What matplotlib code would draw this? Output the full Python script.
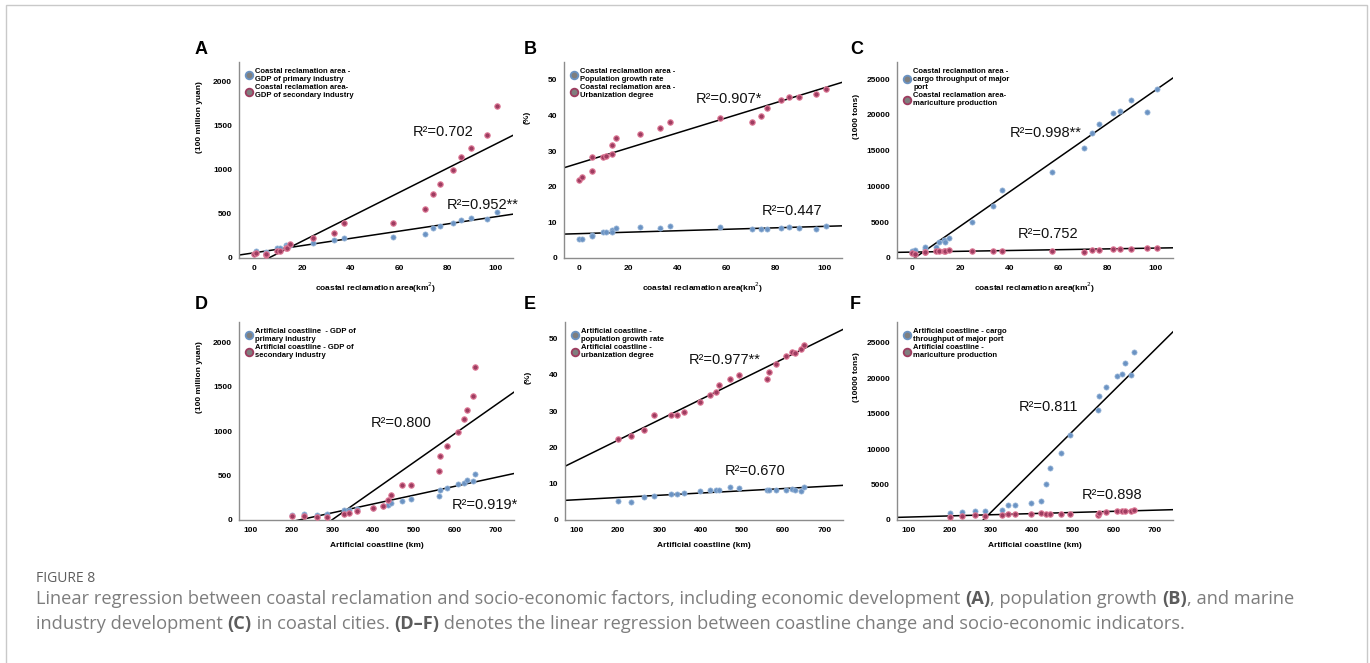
import numpy as np
import matplotlib
matplotlib.use("Agg")
import matplotlib.pyplot as plt
from matplotlib.lines import Line2D
from matplotlib.patches import Rectangle

# ---------------- data ----------------
# coastal reclamation area (km2), shared by panels A-C
x_recl = [0, 1.2, 5.3, 5.3, 9.8, 11.1, 13.4, 13.6, 15.2, 24.7, 33.2, 37.1,
          57.6, 70.6, 74.0, 76.7, 82.4, 85.5, 89.7, 96.3, 100.5]
# artificial coastline (km), shared by panels D-F
x_coast = [200, 230.7, 261.5, 285.8, 327.5, 341.6, 359.5, 398.5, 423, 436, 444,
           470.5, 493, 561, 564.5, 582, 608, 621.5, 629, 643.5, 650.5]

a_primary = [49, 75, 64, 60, 113, 113, 143, 132, 150, 169, 199, 222, 237, 274,
             335, 361, 402, 425, 455, 447, 523]
a_secondary = [45, 53, 38, 40, 75, 83, 109, 117, 158, 226, 286, 398, 391, 553,
               722, 835, 996, 1143, 1241, 1391, 1722]
b_pop = [5.4, 5.2, 6.5, 6.3, 7.3, 7.4, 7.8, 7.4, 8.4, 8.6, 8.4, 8.9, 8.8, 8.2,
         8.2, 8.2, 8.5, 8.6, 8.4, 8.1, 9.1]
b_urban = [22.0, 22.8, 24.3, 28.3, 28.3, 28.5, 29.2, 31.8, 33.8, 34.8, 36.4,
           38.3, 39.3, 38.3, 39.9, 42.1, 44.3, 45.2, 45.3, 46.1, 47.4]
c_cargo = [1020, 1160, 1300, 1490, 1580, 2230, 2560, 2180, 2790, 5070, 7300,
           9480, 11990, 15380, 17470, 18730, 20210, 20540, 22070, 20450, 23560]
c_mari = [700, 600, 790, 790, 930, 930, 1020, 980, 1070, 980, 930, 1020, 1020,
          880, 1120, 1160, 1210, 1300, 1300, 1350, 1440]
d_primary = [60, 68, 60, 64, 113, 113, 124, 139, 158, 169, 195, 218, 233, 270,
             334, 360, 402, 420, 450, 443, 522]
d_secondary = [45, 49, 38, 38, 68, 79, 105, 131, 154, 225, 285, 398, 390, 552,
               724, 833, 994, 1144, 1242, 1396, 1726]
e_pop = [5.3, 5.1, 6.4, 6.5, 7.2, 7.3, 7.5, 7.9, 8.3, 8.4, 8.4, 9.0, 8.9, 8.2,
         8.2, 8.3, 8.4, 8.5, 8.4, 8.1, 9.2]
e_urban = [22.3, 23.2, 24.7, 28.9, 28.9, 29.0, 29.9, 32.5, 34.4, 35.4, 37.1,
           39.0, 40.1, 39.0, 40.7, 43.0, 45.2, 46.2, 46.1, 47.1, 48.3]
f_cargo = [940, 1080, 1220, 1310, 1450, 2060, 2060, 2440, 2720, 5020, 7270,
           9480, 12010, 15430, 17540, 18810, 20310, 20590, 22190, 20500, 23690]
f_mari = [470, 560, 660, 610, 750, 800, 800, 890, 940, 800, 800, 890, 890, 750,
          940, 1080, 1220, 1270, 1270, 1310, 1360]

# regression lines (slope, intercept) for blue / red series per panel
fit_blue = [(4.10, 58), (0.0205, 6.83), (237.9, -285),
            (0.995, -217), (0.00614, 4.98), (57.2, -16096)]
fit_red = [(13.79, -86), (0.212, 26.6), (5.63, 823),
           (3.23, -964), (0.0560, 10.84), (1.613, 254)]

r2_blue = ["R²=0.952**", "R²=0.447", "R²=0.998**", "R²=0.919*", "R²=0.670", "R²=0.811"]
r2_red = ["R²=0.702", "R²=0.907*", "R²=0.752", "R²=0.800", "R²=0.977**", "R²=0.898"]
r2_blue_pos = [(94.5, 601), (86.9, 13.3), (55, 17425), (674.6, 169), (532.5, 13.6), (440.9, 15947)]
r2_red_pos = [(78.1, 1429), (61.1, 44.5), (55.9, 3392), (468.5, 1096), (457.3, 44.0), (597.2, 3518)]

letters = ["A", "B", "C", "D", "E", "F"]
ylabels = ["(100 million yuan)", "(%)", "(1000 tons)", "(100 million yuan)", "(%)", "(10000 tons)"]
xlabels = ["coastal reclamation area(km$^2$)"] * 3 + ["Artificial coastline (km)"] * 3
leg_blue = ["Coastal reclamation area -\nGDP of primary industry",
            "Coastal reclamation area -\nPopulation growth rate",
            "Coastal reclamation area -\ncargo throughput of major\nport",
            "Artificial coastline  - GDP of\nprimary industry",
            "Artificial coastline -\npopulation growth rate",
            "Artificial coastline - cargo\nthroughput of major port"]
leg_red = ["Coastal reclamation area-\nGDP of secondary industry",
           "Coastal reclamation area -\nUrbanization degree",
           "Coastal reclamation area-\nmariculture production",
           "Artificial coastline - GDP of\nsecondary industry",
           "Artificial coastline -\nurbanization degree",
           "Artificial coastline -\nmariculture production"]

xs = [x_recl] * 3 + [x_coast] * 3
blues = [a_primary, b_pop, c_cargo, d_primary, e_pop, f_cargo]
reds = [a_secondary, b_urban, c_mari, d_secondary, e_urban, f_mari]
xticks_list = [[0, 20, 40, 60, 80, 100]] * 3 + [[100, 200, 300, 400, 500, 600, 700]] * 3
yticks_list = [[0, 500, 1000, 1500, 2000], [0, 10, 20, 30, 40, 50],
               [0, 5000, 10000, 15000, 20000, 25000],
               [0, 500, 1000, 1500, 2000], [0, 10, 20, 30, 40, 50],
               [0, 5000, 10000, 15000, 20000, 25000]]

# ---------------- layout / style ----------------
W, H = 1370, 663
# axes boxes in pixels: left, top, right, bottom
boxes = [(239, 62, 513, 258), (564, 62, 842, 258), (897, 62, 1173, 258),
         (239, 322, 514, 520), (565, 322, 843, 520), (897, 322, 1173, 520)]
letter_px = [(201, 49), (530, 49), (857, 49), (201, 305), (530, 305), (855, 305)]
xlims = [(-6, 107)] * 3 + [(71, 745)] * 3
ylims = [(0, 2220), (0, 55), (0, 27400), (0, 2233), (0, 54.6), (0, 27900)]
ylab_x = [-0.13, -0.12, -0.135, -0.13, -0.12, -0.135]

BLUE = "#6b93c3"
BLUE_E = "#9db9da"
RED = "#9e3c60"
RED_E = "#e07b98"
GRAY_LEG = "#7f7f7f"
FONT = "Liberation Sans"

plt.rcParams["font.family"] = [FONT, "DejaVu Sans"]

fig = plt.figure(figsize=(W / 100, H / 100), dpi=100)
fig.patch.set_facecolor("white")

# page frame
fig.add_artist(Rectangle((6 / W, -0.01), (1367 - 6) / W, 1 - 5 / H + 0.01,
                         transform=fig.transFigure, fill=False,
                         edgecolor="#c9c9c9", linewidth=1.0))

for i in range(6):
    l, t, r, b = boxes[i]
    ax = fig.add_axes([l / W, 1 - b / H, (r - l) / W, (b - t) / H])
    ax.set_xlim(*xlims[i])
    ax.set_ylim(*ylims[i])
    for s in ["top", "right"]:
        ax.spines[s].set_visible(False)
    for s in ["left", "bottom"]:
        ax.spines[s].set_color("#8c8c8c")
        ax.spines[s].set_linewidth(1.0)
    ax.set_xticks(xticks_list[i])
    ax.set_yticks(yticks_list[i])
    ax.tick_params(length=0, labelsize=6, pad=5)
    for lab in ax.get_xticklabels() + ax.get_yticklabels():
        lab.set_fontweight("bold")

    xx = np.array(xs[i], dtype=float)
    # regression lines across the whole x-range
    xl = np.array(xlims[i], dtype=float)
    sb, ib = fit_blue[i]
    sr, ir = fit_red[i]
    ax.plot(xl, sb * xl + ib, color="black", lw=1.1, zorder=2)
    ax.plot(xl, sr * xl + ir, color="black", lw=1.1, zorder=2)

    ax.scatter(xx, blues[i], s=14, color=BLUE, edgecolors=BLUE_E, linewidths=0.5, zorder=3)
    ax.scatter(xx, reds[i], s=15, color=RED, edgecolors=RED_E, linewidths=0.8, zorder=3)

    ax.text(*r2_red_pos[i], r2_red[i], fontsize=10.5, ha="center", va="center", color="#111111")
    ax.text(*r2_blue_pos[i], r2_blue[i], fontsize=10.5, ha="center", va="center", color="#111111")

    ax.set_xlabel(xlabels[i], fontsize=6, fontweight="bold", labelpad=6)
    ax.set_ylabel(ylabels[i], fontsize=6, fontweight="bold")
    ax.yaxis.set_label_coords(ylab_x[i], 0.72)

    handles = [Line2D([], [], ls="", marker="o", markersize=5.5, markerfacecolor=GRAY_LEG,
                      markeredgecolor=BLUE, markeredgewidth=1.3),
               Line2D([], [], ls="", marker="o", markersize=5.5, markerfacecolor=GRAY_LEG,
                      markeredgecolor=RED, markeredgewidth=1.3)]
    ax.legend(handles, [leg_blue[i], leg_red[i]], loc="upper left", frameon=False,
              prop={"size": 5.5, "weight": "bold"}, handletextpad=0.3, handlelength=1.0,
              labelspacing=0.15, borderaxespad=0.5, borderpad=0.3)

    lx, ly = letter_px[i]
    fig.text(lx / W, 1 - ly / H, letters[i], fontsize=13, fontweight="bold",
             ha="center", va="center")

# ---------------- caption ----------------
renderer = fig.canvas.get_renderer()
CAP_FONT = ["Open Sans", "DejaVu Sans"]
CAP_COL = "#7d7d7d"
BOLD_COL = "#5c5c5c"

fig.text(36 / W, 1 - 582 / H, "FIGURE 8", fontsize=10, family=CAP_FONT,
         color="#5e5e5e", va="baseline")

line1 = [("Linear regression between coastal reclamation and socio-economic factors, including economic development ", False),
         ("(A)", True), (", population growth ", False), ("(B)", True), (", and marine", False)]
line2 = [("industry development ", False), ("(C)", True), (" in coastal cities. ", False),
         ("(D\u2013F)", True), (" denotes the linear regression between coastline change and socio-economic indicators.", False)]


def place(pieces, x0, yb, fs, draw=True):
    x = x0
    made = []
    for s, bold in pieces:
        t = fig.text(x / W, 1 - yb / H, s, fontsize=fs, family=CAP_FONT,
                     fontweight="bold" if bold else "normal",
                     color=BOLD_COL if bold else CAP_COL, va="baseline")
        x += t.get_window_extent(renderer).width
        made.append(t)
    if not draw:
        for t in made:
            t.remove()
    return x - x0


target = 1302 - 36
w = place(line1, 36, 604, 11, draw=False)
fs = 11 * target / w
place(line1, 36, 604, fs)
place(line2, 36, 629, fs)

fig.savefig("out.png", dpi=100, facecolor="white")
